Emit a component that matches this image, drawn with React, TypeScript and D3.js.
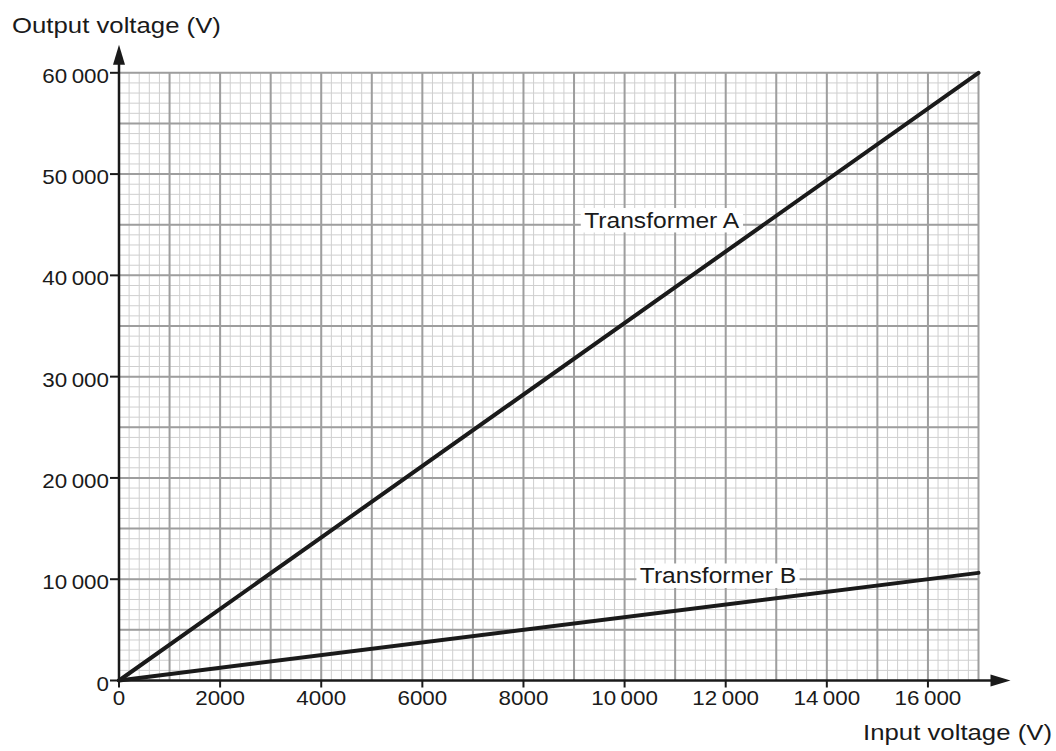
import React, { useEffect, useRef } from 'react';
import * as d3 from 'd3';

// Input voltage (V) -> output voltage (V)
const inputA = [0, 17000];
const outputA = [0, 60000];
const inputB = [0, 17000];
const outputB = [0, 10625];

const xTicks = [0, 2000, 4000, 6000, 8000, 10000, 12000, 14000, 16000];
const yTicks = [0, 10000, 20000, 30000, 40000, 50000, 60000];

const seriesLabels = [
  { text: 'Transformer A', x: 9200, y: 44700 },
  { text: 'Transformer B', x: 10300, y: 9600 }
];

const FONT = '"Liberation Sans", Arial, sans-serif';
const STRETCH = 1.12;
const INK = '#1a1a1a';

const fmt = (v: number) => {
  if (v < 10000) return String(v);
  const s = String(v);
  return s.slice(0, s.length - 3) + '\u2009' + s.slice(s.length - 3);
};

const App: React.FC = () => {
  const svgRef = useRef<SVGSVGElement>(null);

  useEffect(() => {
    if (!svgRef.current) return;
    document.body.style.margin = '0';

    const width = 1056;
    const height = 751;

    const svg = d3.select(svgRef.current);
    svg.selectAll('*').remove();
    svg.attr('width', width).attr('height', height);

    const x = d3.scaleLinear().domain([0, 17000]).range([119, 978.5]);
    const y = d3.scaleLinear().domain([0, 60000]).range([680.5, 72.8]);

    const [x0, x1] = x.range();
    const [y0, y1] = y.range();

    // stretched text helper (the source lettering is a bit wide)
    const addText = (
      parent: d3.Selection<any, unknown, null, undefined>,
      tx: number,
      ty: number,
      text: string,
      size: number,
      anchor: string
    ) => {
      const g = parent.append('g')
        .attr('transform', `translate(${tx},${ty}) scale(${STRETCH},1)`);
      const t = g.append('text')
        .attr('text-anchor', anchor)
        .style('font-family', FONT)
        .style('font-size', `${size}px`)
        .style('fill', INK)
        .text(text);
      return { g, t };
    };

    // minor grid
    const grid = svg.append('g');
    grid.selectAll('.vminor')
      .data(d3.range(0, 17001, 200))
      .enter()
      .append('line')
      .attr('x1', d => x(d)).attr('x2', d => x(d))
      .attr('y1', y0).attr('y2', y1)
      .attr('stroke', '#cfcfcf')
      .attr('stroke-width', 1);
    grid.selectAll('.hminor')
      .data(d3.range(0, 60001, 1000))
      .enter()
      .append('line')
      .attr('y1', d => y(d)).attr('y2', d => y(d))
      .attr('x1', x0).attr('x2', x1)
      .attr('stroke', '#cfcfcf')
      .attr('stroke-width', 1);

    // major grid
    grid.selectAll('.vmajor')
      .data(d3.range(1000, 17001, 1000))
      .enter()
      .append('line')
      .attr('x1', d => x(d)).attr('x2', d => x(d))
      .attr('y1', y0).attr('y2', y1)
      .attr('stroke', '#9e9e9e')
      .attr('stroke-width', 2);
    grid.selectAll('.hmajor')
      .data(d3.range(5000, 60001, 5000))
      .enter()
      .append('line')
      .attr('y1', d => y(d)).attr('y2', d => y(d))
      .attr('x1', x0).attr('x2', x1)
      .attr('stroke', '#9e9e9e')
      .attr('stroke-width', 2);

    // axes with arrows
    const axes = svg.append('g');
    axes.append('line')
      .attr('x1', x0).attr('x2', x0)
      .attr('y1', y0 + 1).attr('y2', y1 - 15)
      .attr('stroke', INK).attr('stroke-width', 2.5);
    axes.append('path')
      .attr('d', `M${x0},${y1 - 28} L${x0 - 6},${y1 - 8} L${x0 + 6},${y1 - 8} Z`)
      .attr('fill', INK);
    axes.append('line')
      .attr('x1', x0 - 1).attr('x2', x1 + 15)
      .attr('y1', y0).attr('y2', y0)
      .attr('stroke', INK).attr('stroke-width', 2.5);
    axes.append('path')
      .attr('d', `M${x1 + 32},${y0} L${x1 + 12},${y0 - 6} L${x1 + 12},${y0 + 6} Z`)
      .attr('fill', INK);

    // ticks
    axes.selectAll('.ytick')
      .data(yTicks)
      .enter()
      .append('line')
      .attr('x1', x0 - 9).attr('x2', x0)
      .attr('y1', d => y(d)).attr('y2', d => y(d))
      .attr('stroke', INK).attr('stroke-width', 2);
    axes.selectAll('.xtick')
      .data(xTicks)
      .enter()
      .append('line')
      .attr('x1', d => x(d)).attr('x2', d => x(d))
      .attr('y1', y0).attr('y2', y0 + 7)
      .attr('stroke', INK).attr('stroke-width', 2);

    // data lines
    const line = d3.line<[number, number]>()
      .x(d => x(d[0]))
      .y(d => y(d[1]));
    const series = [
      d3.zip(inputA, outputA) as [number, number][],
      d3.zip(inputB, outputB) as [number, number][]
    ];
    svg.append('g')
      .selectAll('path')
      .data(series)
      .enter()
      .append('path')
      .attr('d', d => line(d))
      .attr('fill', 'none')
      .attr('stroke', INK)
      .attr('stroke-width', 4)
      .attr('stroke-linecap', 'round');

    // series labels on white boxes
    seriesLabels.forEach(l => {
      const { g, t } = addText(svg, x(l.x), y(l.y), l.text, 22, 'start');
      const bb = (t.node() as SVGTextElement).getBBox();
      g.insert('rect', 'text')
        .attr('x', bb.x - 3)
        .attr('y', bb.y)
        .attr('width', bb.width + 6)
        .attr('height', bb.height)
        .attr('fill', '#ffffff');
    });

    // tick labels
    yTicks.forEach(v => addText(svg, x0 - 10, y(v) + 10, fmt(v), 20, 'end'));
    xTicks.forEach(v => addText(svg, x(v), y0 + 24.5, fmt(v), 20, 'middle'));

    // axis titles
    addText(svg, 12, 33, 'Output voltage (V)', 23, 'start');
    addText(svg, 1052, 740, 'Input voltage (V)', 23, 'end');
  }, []);

  return <svg ref={svgRef} style={{ display: 'block', background: '#ffffff' }} />;
};

export default App;
